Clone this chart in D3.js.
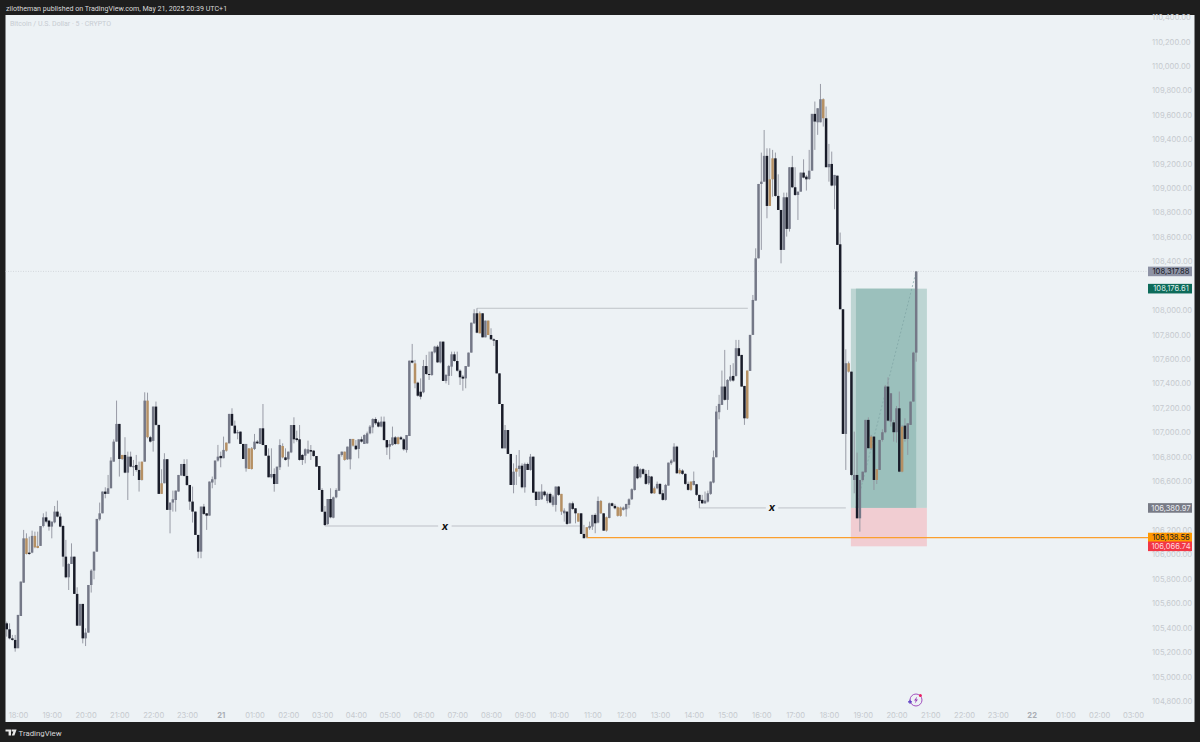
<!DOCTYPE html>
<html>
<head>
<meta charset="utf-8">
<script src="https://cdn.jsdelivr.net/npm/d3@7"></script>
<style>
  html, body { margin: 0; padding: 0; background: #1e1e1e; }
  svg { display: block; }
  text { font-family: Inter, "Liberation Sans", sans-serif; }
</style>
</head>
<body>
<svg id="chart" width="1200" height="742"></svg>
<script>
// BTCUSD 5 min bars
var opens = [
  105436,105387,105313,105300,105232,105496,105769,106132,106015,106015,
  106152,106070,106070,106233,106304,106277,106228,106263,106351,106310,
  106233,105982,105813,105922,105982,105677,105417,105595,105313,105360,
  105750,105868,106023,106288,106337,106515,106496,106542,106760,106924,
  107069,106815,106815,106670,106801,106714,106733,106692,106760,106760,
  107260,106960,106930,107211,107061,106583,106583,106780,106365,106425,
  106446,106515,106646,106741,106643,106569,106433,106351,106160,106023,
  106392,106337,106318,106589,106616,106769,106807,106788,106916,106910,
  107151,107055,106992,107006,106905,106705,106869,106869,106864,106924,
  106905,107033,106896,106809,106632,106659,106577,106714,106888,106795,
  106779,106836,107060,106951,106943,106815,106809,106828,106855,106850,
  106806,106724,106528,106350,106249,106454,106301,106468,106522,106815,
  106842,106779,106779,106946,106891,106864,106943,106905,106910,106992,
  107041,107109,107082,107047,107088,106937,106883,106896,106959,106959,
  106959,106943,106855,106970,107587,107565,107407,107333,107328,107543,
  107478,107470,107655,107702,107573,107743,107421,107462,107538,107639,
  107584,107505,107456,107442,107538,107653,107893,107975,107975,107975,
  107778,107915,107797,107762,107756,107483,107232,106869,107019,106823,
  106569,106705,106700,106727,106550,106741,106692,106801,106514,106446,
  106452,106515,106438,106496,106406,106406,106556,106496,106337,106351,
  106255,106419,106378,106337,106337,106168,106223,106215,106228,106324,
  106261,106438,106337,106305,106299,106419,106398,106387,106384,106365,
  106370,106406,106452,106528,106720,106632,106698,106660,106583,106638,
  106542,106542,106578,106501,106447,106564,106747,106761,106883,106692,
  106687,106660,106578,106597,106569,106575,106488,106447,106419,106433,
  106496,106589,106796,107165,107225,107375,107266,107424,107462,107462,
  107689,107634,107380,107506,107503,107798,108079,108425,109034,109053,
  109264,109072,109244,109244,108936,108821,108494,108925,108666,109171,
  109007,108944,108971,109127,109094,109075,109143,109608,109539,109539,
  109728,109572,109171,109198,109021,109102,108540,108008,106987,107566,
  107497,106610,106651,106296,106610,106673,107102,106965,106965,106698,
  106692,106938,107001,107375,107088,107082,107001,107197,107047,107055,
  106946,107061,107252,107653
]
var highs = [
  105450,105436,105341,105341,105505,105778,106201,106173,106146,106195,
  106187,106187,106233,106337,106351,106283,106269,106397,106441,106337,
  106242,106119,105928,106091,105982,105731,105595,105595,105395,105750,
  105879,106023,106291,106425,106515,106550,106651,106796,106943,107260,
  107069,106815,106960,106842,106842,106774,106815,106760,106760,107328,
  107325,106971,107211,107252,107061,106698,106829,106780,106425,106523,
  106523,106651,106741,106780,106780,106569,106556,106351,106160,106392,
  106414,106337,106597,106638,106769,106897,106842,106965,106916,107151,
  107197,107096,107020,107006,106905,106905,106869,106880,106987,106937,
  107033,107232,106896,106869,106869,106705,106719,106943,106910,106869,
  106842,107060,107123,107014,107060,106823,106869,106932,106896,106855,
  106806,106724,106542,106397,106454,106542,106474,106542,106820,106842,
  106842,106883,106946,106946,106937,106943,106965,106984,107006,107060,
  107115,107123,107096,107129,107129,106937,106937,107047,106970,106965,
  106970,106951,106978,107587,107724,107593,107415,107442,107593,107634,
  107661,107661,107708,107716,107743,107743,107478,107552,107661,107661,
  107661,107516,107470,107543,107653,107898,108008,108016,107990,107975,
  107915,107915,107852,107770,107756,107483,107232,107060,107019,106823,
  106746,106815,106855,106746,106752,106752,106823,106801,106514,106514,
  106575,106523,106507,106507,106488,106556,106561,106496,106378,106351,
  106425,106433,106378,106337,106337,106242,106223,106269,106324,106337,
  106474,106446,106337,106310,106425,106425,106414,106392,106392,106392,
  106414,106460,106542,106725,106741,106706,106706,106692,106692,106643,
  106556,106597,106583,106529,106578,106752,106780,106911,106890,106706,
  106698,106665,106597,106597,106679,106578,106488,106488,106515,106523,
  106597,106851,107216,107307,107506,107675,107436,107552,107566,107757,
  107757,107634,107380,107506,107798,108125,108507,109034,109291,109476,
  109326,109326,109313,109291,109113,108821,108963,108963,109171,109264,
  109171,108971,109127,109236,109108,109313,109608,109709,109654,109853,
  109735,109668,109362,109299,109108,109102,108636,108008,107680,107580,
  107497,107006,106834,106610,106678,107102,107123,106979,106970,106698,
  106938,107025,107388,107451,107320,107102,107216,107334,107061,107115,
  107074,107252,107660,108318
]
var lows = [
  105327,105305,105294,105204,105232,105496,105769,106000,105996,106010,
  106051,106051,106070,106222,106255,106195,106132,106255,106304,106223,
  105900,105805,105709,105922,105677,105417,105417,105272,105250,105360,
  105688,105797,106023,106277,106337,106460,106496,106542,106760,106924,
  106638,106774,106665,106446,106714,106643,106678,106515,106605,106760,
  106951,106916,106842,107055,106496,106496,106583,106365,106173,106351,
  106351,106515,106646,106638,106561,106365,106261,106160,105969,105969,
  106324,106201,106318,106542,106569,106760,106714,106788,106842,106910,
  107052,106987,106943,106905,106782,106678,106700,106695,106855,106905,
  106905,106896,106809,106632,106623,106514,106577,106692,106787,106768,
  106719,106830,106910,106924,106768,106733,106746,106823,106774,106801,
  106719,106528,106350,106233,106241,106296,106296,106460,106522,106801,
  106768,106774,106697,106883,106855,106787,106916,106905,106905,106984,
  106992,107060,107041,107041,106932,106815,106779,106890,106896,106900,
  106937,106850,106834,106970,107565,107361,107292,107270,107320,107470,
  107429,107462,107647,107570,107565,107421,107401,107388,107462,107579,
  107497,107388,107341,107361,107538,107653,107887,107811,107811,107778,
  107778,107797,107756,107707,107483,107232,106869,106869,106823,106569,
  106501,106569,106637,106541,106506,106692,106686,106506,106397,106446,
  106447,106474,106419,106419,106392,106351,106479,106324,106269,106241,
  106250,106365,106255,106269,106168,106133,106133,106201,106201,106174,
  106255,106332,106195,106187,106296,106392,106370,106310,106310,106359,
  106310,106378,106446,106523,106616,106624,106652,106570,106570,106496,
  106496,106534,106488,106441,106441,106564,106733,106755,106660,106657,
  106652,106570,106523,106520,106564,106480,106378,106414,106414,106425,
  106488,106583,106796,107107,107225,107260,107184,107415,107415,107457,
  107621,107375,107061,107110,107503,107798,108079,108425,108494,109053,
  108753,108854,108930,108930,108821,108384,108494,108603,108644,109000,
  108936,108739,108971,109080,108980,109067,109143,109313,109436,109539,
  109504,109171,109053,109015,108827,108535,108008,106987,106692,107490,
  106643,106501,106296,106187,106596,106673,106870,106856,106528,106577,
  106692,106924,106992,107088,107047,106924,106916,106673,106673,106924,
  106815,107061,107252,107579
]
var closes = [
  105387,105313,105300,105232,105505,105778,106132,106004,106004,106152,
  106059,106053,106233,106304,106269,106228,106269,106351,106310,106228,
  105982,105813,105922,105982,105677,105417,105595,105313,105360,105750,
  105868,106023,106291,106337,106515,106496,106542,106769,106924,107069,
  106782,106782,106670,106801,106719,106725,106692,106610,106610,107260,
  106960,106924,107211,107061,106496,106496,106780,106365,106425,106452,
  106523,106651,106741,106643,106569,106433,106351,106160,106023,106392,
  106332,106318,106597,106616,106769,106801,106788,106856,106850,107151,
  107055,106992,107003,106905,106782,106905,106700,106700,106924,106910,
  107033,106896,106809,106632,106659,106577,106719,106896,106795,106774,
  106842,107060,106943,106937,106774,106774,106861,106861,106842,106806,
  106719,106528,106350,106241,106454,106304,106468,106528,106820,106842,
  106774,106883,106946,106891,106861,106943,106924,106978,106992,107047,
  107109,107074,107047,107088,106937,106877,106905,106959,106905,106905,
  106943,106861,106978,107587,107571,107401,107300,107292,107543,107478,
  107470,107661,107702,107573,107743,107421,107470,107543,107639,107584,
  107505,107451,107440,107543,107653,107898,107975,107816,107811,107778,
  107915,107797,107762,107751,107483,107232,106869,107019,106823,106569,
  106678,106678,106727,106550,106741,106692,106801,106506,106446,106514,
  106515,106485,106496,106425,106474,106556,106488,106351,106359,106250,
  106419,106373,106337,106269,106168,106133,106141,106234,106324,106255,
  106438,106337,106195,106195,106419,106398,106378,106316,106316,106384,
  106414,106452,106534,106720,106624,106698,106660,106578,106643,106501,
  106501,106578,106496,106447,106569,106752,106769,106883,106665,106665,
  106660,106578,106529,106529,106602,106488,106438,106419,106441,106501,
  106597,106796,107170,107233,107375,107266,107429,107457,107424,107689,
  107626,107375,107115,107115,107798,108084,108425,109034,109053,109264,
  108854,108854,109072,108936,108821,108494,108925,108666,109171,109007,
  108944,108971,109127,109086,109072,109143,109608,109545,109654,109728,
  109572,109171,109198,109021,109108,108535,108008,106987,107566,107497,
  106651,106651,106296,106610,106678,107102,106870,106870,106610,106610,
  106938,107001,107375,107096,107320,107001,107197,106678,106678,106946,
  107074,107252,107653,108317.88
]
// bar numbers (counted from 1) that are painted tan on the chart
var tanBars = [8,11,12,42,49,51,56,79,87,88,99,121,124,140,146,169,172,182,198,204,207,212,214,218,219,231,240,244,264,272,273,291,300,308,310,319]

// 106,400 and 108,200 sit under the badges in the picture
var priceTicks = [104800,105000,105200,105400,105600,105800,106000,106200,106600,106800,107000,107200,107400,107600,107800,108000,108400,108600,108800,109000,109200,109400,109600,109800,110000,110200,110400]
var timeLabels = ["18:00","19:00","20:00","21:00","22:00","23:00","21","01:00","02:00","03:00","04:00","05:00","06:00","07:00","08:00","09:00","10:00","11:00","12:00","13:00","14:00","15:00","16:00","17:00","18:00","19:00","20:00","21:00","22:00","23:00","22","01:00","02:00","03:00"]

// levels on the chart
var lastPrice = 108317.88
var takeProfit = 108176.61
var stopPrice = 106066.74
var entryPrice = 106380.97
var limitPrice = 106138.56

var badgeValues = [108317.88, 108176.61, 106380.97, 106138.56, 106066.74]

function t(day, h, m) { return new Date(2025, 4, day, h, m || 0) }
var firstBar = t(20, 17, 40)
var barTimes = opens.map(function (d, i) { return new Date(+firstBar + i * 5 * 60000) })
var tickTimes = timeLabels.map(function (d, i) { return new Date(+t(20, 18) + i * 3600000) })

var x = d3.scaleTime().domain([t(20, 18), t(22, 3)]).range([18, 1133])
var y = d3.scaleLinear().domain([104800, 110000]).range([701, 66])

var svg = d3.select("#chart")

svg.append("rect").attr("width", 1200).attr("height", 742).attr("fill", "#1e1e1e")
svg.append("rect").attr("x", 5.5).attr("y", 15).attr("width", 1189).attr("height", 707).attr("fill", "#edf2f5")

// header
svg.append("text").attr("x", 6).attr("y", 11).attr("fill", "#d9d9d9").style("font-family", "Roboto").style("font-size", "7.1px")
  .text("zilotheman published on TradingView.com, May 21, 2025 20:39 UTC+1")
svg.append("text").attr("x", 10).attr("y", 26).attr("fill", "#c7ccd2").style("font-family", "Roboto").style("font-size", "7px")
  .text("Bitcoin / U.S. Dollar · 5 · CRYPTO")

// axes
var priceAxis = d3.axisRight(y).tickValues(priceTicks).tickSize(0).tickPadding(0).tickFormat(d3.format(",.2f"))
var pa = svg.append("g").attr("transform", "translate(1152,0)").call(priceAxis)
pa.select(".domain").remove()
pa.selectAll("text").attr("fill", "#c6cacf").style("font-size", "7.6px")

var timeAxis = d3.axisBottom(x).tickValues(tickTimes).tickSize(0).tickPadding(0)
  .tickFormat(function (d, i) { return timeLabels[i] })
var ta = svg.append("g").attr("transform", "translate(0,712.5)").call(timeAxis)
ta.select(".domain").remove()
ta.selectAll("text").attr("fill", function (d, i) { return timeLabels[i].length == 2 ? "#a9adb3" : "#c6cacf" })
  .style("font-size", "7.6px").style("font-weight", function (d, i) { return timeLabels[i].length == 2 ? "700" : "400" })

// last price line
svg.append("line").attr("x1", 5.5).attr("x2", 1148).attr("y1", y(lastPrice)).attr("y2", y(lastPrice))
  .attr("stroke", "#c9cdd3").attr("stroke-width", 0.7).attr("stroke-dasharray", "1 1.5")

// long position box
var boxStart = t(21, 18, 39), boxEnd = t(21, 20, 54), fillStart = t(21, 18, 48), fillEnd = t(21, 20, 35)
svg.append("rect").attr("x", x(boxStart)).attr("width", x(boxEnd) - x(boxStart))
  .attr("y", y(takeProfit)).attr("height", y(entryPrice) - y(takeProfit)).attr("fill", "#bdd5d3")
svg.append("rect").attr("x", x(fillStart)).attr("width", x(fillEnd) - x(fillStart))
  .attr("y", y(takeProfit)).attr("height", y(entryPrice) - y(takeProfit)).attr("fill", "#9bc0bc")
svg.append("rect").attr("x", x(boxStart)).attr("width", x(boxEnd) - x(boxStart))
  .attr("y", y(entryPrice)).attr("height", y(stopPrice) - y(entryPrice)).attr("fill", "#f1cdd2")
svg.append("line").attr("x1", x(fillStart)).attr("x2", x(fillEnd)).attr("y1", y(entryPrice)).attr("y2", y(lastPrice))
  .attr("stroke", "#7ea3a4").attr("stroke-width", 0.7).attr("stroke-dasharray", "2 2")

// drawn levels
var levelPrices = [108016, 106233, 106233, 106381, 106381]
var levelStarts = [t(21, 7, 35), t(21, 3, 5), t(21, 6, 50), t(21, 14, 11), t(21, 16, 30)]
var levelEnds = [t(21, 15, 36), t(21, 6, 26), t(21, 10, 38), t(21, 16, 8), t(21, 18, 30)]
svg.selectAll(".level").data(levelPrices).enter().append("line").attr("class", "level")
  .attr("x1", function (d, i) { return x(levelStarts[i]) })
  .attr("x2", function (d, i) { return x(levelEnds[i]) })
  .attr("y1", function (d) { return y(d) })
  .attr("y2", function (d) { return y(d) })
  .attr("stroke", "#a9adb5").attr("stroke-width", 0.7)
svg.append("line").attr("x1", x(t(21, 10, 50))).attr("x2", 1148).attr("y1", y(limitPrice)).attr("y2", y(limitPrice))
  .attr("stroke", "#fb9f2e").attr("stroke-width", 1.2)

var xMarkTimes = [t(21, 6, 38), t(21, 16, 19)]
var xMarkPrices = [106233, 106381]
svg.selectAll(".xmark").data(xMarkTimes).enter().append("text").attr("class", "xmark")
  .attr("x", function (d) { return x(d) })
  .attr("y", function (d, i) { return y(xMarkPrices[i]) + 3.5 })
  .attr("text-anchor", "middle").attr("fill", "#111").style("font-size", "11px").style("font-weight", "700").style("font-style", "italic")
  .text("x")

// candles
var bars = svg.selectAll(".bar").data(opens).enter().append("g").attr("class", "bar")
function isTan(i) { return tanBars.indexOf(i + 1) >= 0 }
bars.append("line")
  .attr("x1", function (d, i) { return x(barTimes[i]) })
  .attr("x2", function (d, i) { return x(barTimes[i]) })
  .attr("y1", function (d, i) { return y(highs[i]) })
  .attr("y2", function (d, i) { return y(lows[i]) })
  .attr("stroke", "#8e929d").attr("stroke-width", 0.9)
bars.append("rect")
  .attr("x", function (d, i) { return x(barTimes[i]) - 1.25 })
  .attr("width", 2.5)
  .attr("y", function (d, i) { return y(Math.max(opens[i], closes[i])) })
  .attr("height", function (d, i) { return Math.max(1, Math.abs(y(opens[i]) - y(closes[i]))) })
  .attr("fill", function (d, i) {
    if (isTan(i)) return "#b59064"
    return closes[i] >= opens[i] ? "#747887" : "#191c29"
  })

// price badges
var badgeFill = ["#8d92a5", "#0d6b5a", "#787b86", "#ff9800", "#f23645"]
var badgeText = ["#131722", "#dfeeea", "#eceef2", "#131722", "#ffd9dc"]
var badges = svg.selectAll(".badge").data(badgeValues).enter().append("g").attr("class", "badge")
badges.append("rect").attr("x", 1148).attr("width", 44).attr("height", 9.6)
  .attr("y", function (d) { return y(d) - 4.8 }).attr("fill", function (d, i) { return badgeFill[i] })
badges.append("text").attr("x", 1171).attr("text-anchor", "middle")
  .attr("y", function (d) { return y(d) + 2.8 }).attr("fill", function (d, i) { return badgeText[i] })
  .style("font-size", "7.6px").text(d3.format(",.2f"))

// replay / flash icon
var icon = svg.append("g").attr("transform", "translate(916,700)")
icon.append("circle").attr("r", 6).attr("fill", "none").attr("stroke", "#9b3fb8").attr("stroke-width", 0.9)
icon.append("path").attr("d", "M1.2,-3.4 L-2,0.6 L-0.2,0.6 L-1.2,3.4 L2,-0.6 L0.2,-0.6 Z").attr("fill", "#9b3fb8")
icon.append("circle").attr("cx", 4.4).attr("cy", -4.4).attr("r", 1.5).attr("fill", "#e91e63")
icon.append("path").attr("d", "M-8,1.8 H-4 M-6,-0.2 V3.8").attr("stroke", "#5b3cc4").attr("stroke-width", 1.2)

// TradingView footer
svg.append("path").attr("d", "M5.5,729.5 H11 V735.5 H8.6 V731.6 H5.5 Z M11.6,729.5 H16.6 L14.4,735.5 H11.8 L13.4,731.6 H11.6 Z").attr("fill", "#e8e8e8")
svg.append("text").attr("x", 18.6).attr("y", 736).attr("fill", "#d9d9d9").style("font-family", "Roboto").style("font-size", "7.8px").text("TradingView")
</script>
</body>
</html>
